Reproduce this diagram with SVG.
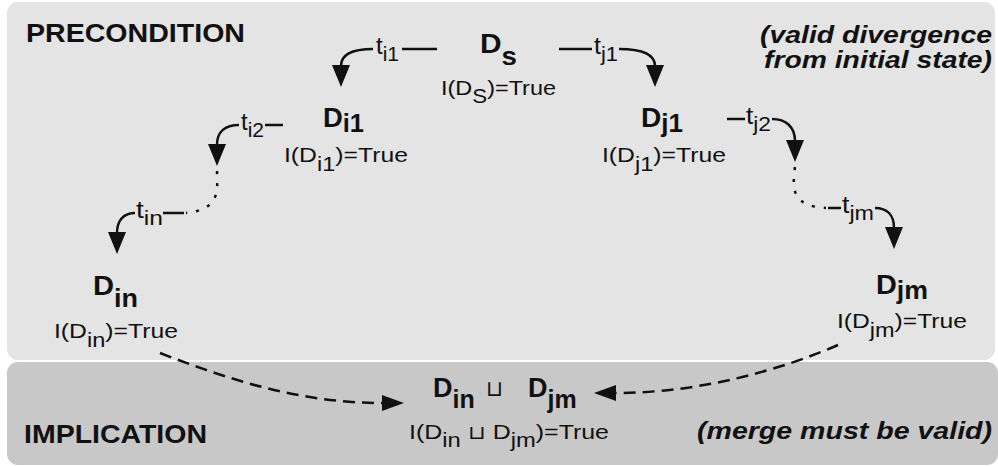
<svg xmlns="http://www.w3.org/2000/svg" width="998" height="466" viewBox="0 0 998 466">
<style>
text{font-family:"Liberation Sans",Arial,Helvetica,sans-serif;fill:#111}
.title{font-size:25px;font-weight:bold}
.note{font-size:24px;font-weight:bold;font-style:italic}
.dn{font-size:27px;font-weight:bold}
.inv{font-size:21px}
.tl{font-size:24px}
.tsub{font-size:21px}
.sub{font-size:20px}
.dsub{font-size:25px}
.edge{fill:none;stroke:#111;stroke-width:2.5}
.dot{stroke-dasharray:3 9}
.dash{stroke-dasharray:12 7}
.sq{font-family:"DejaVu Sans",sans-serif;font-weight:normal}
</style>
<defs>
<marker id="ah" markerWidth="22" markerHeight="18" viewBox="0 0 22 18" refX="1" refY="9" orient="auto" markerUnits="userSpaceOnUse"><path d="M0,0 L22,9 L0,18 z" fill="#111"/></marker>
<marker id="ah2" markerWidth="22" markerHeight="16" viewBox="0 0 22 16" refX="1" refY="8" orient="auto" markerUnits="userSpaceOnUse"><path d="M0,0 L22,8 L0,16 z" fill="#111"/></marker>
</defs>
<rect x="0" y="0" width="998" height="466" fill="#ffffff"/>
<rect x="7" y="2" width="988" height="358" rx="11" fill="#e4e4e4"/>
<rect x="7" y="362" width="991" height="103" rx="11" fill="#c8c8c8"/>
<text class="title" x="26" y="42" textLength="219" lengthAdjust="spacingAndGlyphs">PRECONDITION</text>
<text class="title" x="24" y="443" textLength="183" lengthAdjust="spacingAndGlyphs">IMPLICATION</text>
<text class="note" x="760" y="43" textLength="232" lengthAdjust="spacingAndGlyphs">(valid divergence</text>
<text class="note" x="764" y="68" textLength="228" lengthAdjust="spacingAndGlyphs">from initial state)</text>
<text class="note" x="697" y="439" textLength="295" lengthAdjust="spacingAndGlyphs">(merge must be valid)</text>
<g id="connectors">
<path class="edge" d="M437,49 H402"/>
<path class="edge" d="M373,49 C353,49 341,54 341,66" marker-end="url(#ah)"/>
<path class="edge" d="M559,49 H592"/>
<path class="edge" d="M619,49 C640,49 655,54 655,66" marker-end="url(#ah)"/>
<path class="edge" d="M283,125 H265"/>
<path class="edge" d="M239,125 C226,125 217,131 217,145" marker-end="url(#ah)"/>
<path class="edge dot" d="M217,171 C218,195 218,209 186,213"/>
<path class="edge" d="M184,213 H163"/>
<path class="edge" d="M135,213 C124,213 117,220 117,233" marker-end="url(#ah)"/>
<path class="edge" d="M727,119 H745"/>
<path class="edge" d="M772,119 C786,119 795,127 795,141" marker-end="url(#ah)"/>
<path class="edge dot" d="M795,167 C792,190 792,206 826,208"/>
<path class="edge" d="M828,208 H841"/>
<path class="edge" d="M875,208 C887,208 894,215 894,228" marker-end="url(#ah)"/>
<path class="edge dash" d="M160,353 C230,380 300,403 383,403" marker-end="url(#ah2)"/>
<path class="edge dash" d="M838,345 C780,370 700,393 615,393" marker-end="url(#ah2)"/>
<text class="tl" x="376" y="54" textLength="23" lengthAdjust="spacingAndGlyphs">t<tspan class="tsub" dy="7">i1</tspan></text>
<text class="tl" x="594" y="54" textLength="24" lengthAdjust="spacingAndGlyphs">t<tspan class="tsub" dy="7">j1</tspan></text>
<text class="tl" x="241" y="130" textLength="23" lengthAdjust="spacingAndGlyphs">t<tspan class="tsub" dy="7">i2</tspan></text>
<text class="tl" x="136" y="218" textLength="27" lengthAdjust="spacingAndGlyphs">t<tspan class="tsub" dy="7">in</tspan></text>
<text class="tl" x="746" y="124" textLength="25" lengthAdjust="spacingAndGlyphs">t<tspan class="tsub" dy="7">j2</tspan></text>
<text class="tl" x="842" y="213" textLength="32" lengthAdjust="spacingAndGlyphs">t<tspan class="tsub" dy="7">jm</tspan></text>
</g>
<g id="Ds">
<text class="dn" x="480" y="53" textLength="37" lengthAdjust="spacingAndGlyphs" font-size="28">D<tspan class="dsub" dy="12" font-size="26">s</tspan></text>
<text class="inv" x="441" y="95" textLength="115" lengthAdjust="spacingAndGlyphs">I(D<tspan class="sub" dy="8">S</tspan><tspan dy="-8">)=True</tspan></text>
</g>
<g id="Di1">
<text class="dn" x="323" y="127" textLength="41" lengthAdjust="spacingAndGlyphs">D<tspan class="dsub" dy="5">i1</tspan></text>
<text class="inv" x="284" y="162" textLength="124" lengthAdjust="spacingAndGlyphs">I(D<tspan class="sub" dy="9">i1</tspan><tspan dy="-9">)=True</tspan></text>
</g>
<g id="Dj1">
<text class="dn" x="641" y="127" textLength="42" lengthAdjust="spacingAndGlyphs">D<tspan class="dsub" dy="5">j1</tspan></text>
<text class="inv" x="602" y="162" textLength="124" lengthAdjust="spacingAndGlyphs">I(D<tspan class="sub" dy="9">j1</tspan><tspan dy="-9">)=True</tspan></text>
</g>
<g id="Din">
<text class="dn" x="93" y="295" textLength="45" lengthAdjust="spacingAndGlyphs">D<tspan class="dsub" dy="12">in</tspan></text>
<text class="inv" x="54" y="338" textLength="124" lengthAdjust="spacingAndGlyphs">I(D<tspan class="sub" dy="9">in</tspan><tspan dy="-9">)=True</tspan></text>
</g>
<g id="Djm">
<text class="dn" x="876" y="294" textLength="52" lengthAdjust="spacingAndGlyphs">D<tspan class="dsub" dy="5">jm</tspan></text>
<text class="inv" x="837" y="328" textLength="130" lengthAdjust="spacingAndGlyphs">I(D<tspan class="sub" dy="9">jm</tspan><tspan dy="-9">)=True</tspan></text>
</g>
<g id="merge">
<text class="dn" y="397"><tspan x="433">D</tspan><tspan class="dsub" dy="11">in</tspan><tspan class="sq" x="486" dy="-12" font-size="22">⊔</tspan><tspan x="528" dy="1">D</tspan><tspan class="dsub" dy="11">jm</tspan></text>
<text class="inv" x="409" y="439" textLength="200" lengthAdjust="spacingAndGlyphs">I(D<tspan class="sub" dy="8">in</tspan><tspan class="sq" dy="-8" font-size="19"> ⊔ </tspan>D<tspan class="sub" dy="8">jm</tspan><tspan dy="-8">)=True</tspan></text>
</g>
</svg>
